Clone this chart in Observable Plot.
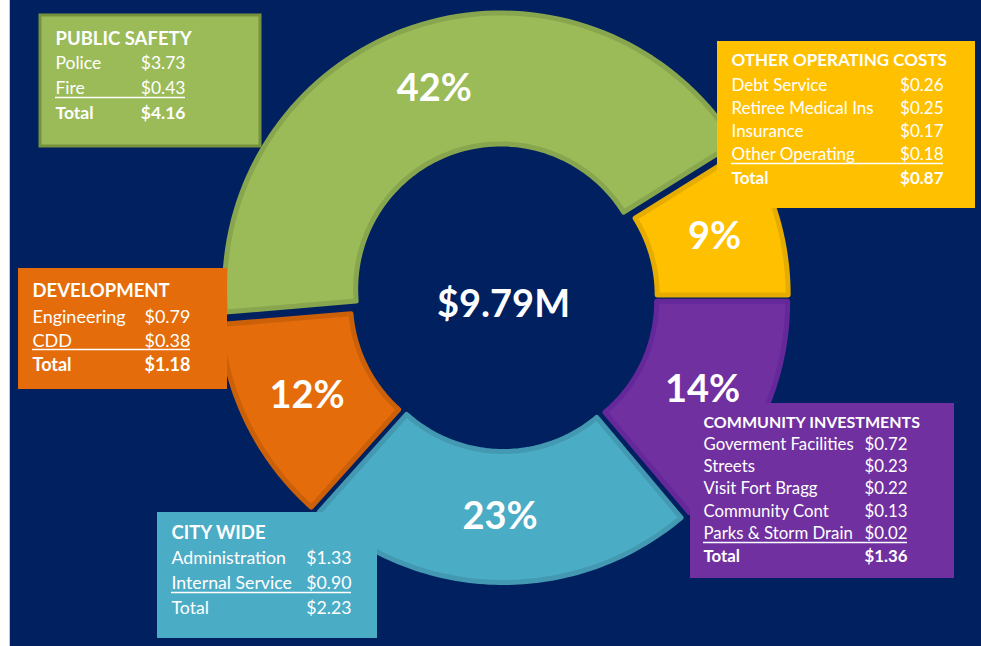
<!DOCTYPE html>
<html><head><meta charset="utf-8">
<script src="https://cdn.jsdelivr.net/npm/d3@7"></script>
<script src="https://cdn.jsdelivr.net/npm/@observablehq/plot@0.6"></script>
<style>
html,body{margin:0;padding:0;background:#fff;}
#chart{width:981px;height:646px;}
#chart svg{display:block;}
</style></head><body><div id="chart"></div>
<script>
// ---------- data ----------
const categories = ["PUBLIC SAFETY", "OTHER OPERATING COSTS", "COMMUNITY INVESTMENTS", "CITY WIDE", "DEVELOPMENT"];
const categoryTotals = [4.16, 0.87, 1.36, 2.23, 1.18];
const totalLabel = "$9.79M";
const publicSafetyItems = ["Police", "Fire"];
const publicSafetyValues = [3.73, 0.43];
const otherOperatingItems = ["Debt Service", "Retiree Medical Ins", "Insurance", "Other Operating"];
const otherOperatingValues = [0.26, 0.25, 0.17, 0.18];
const communityItems = ["Goverment Facilities", "Streets", "Visit Fort Bragg", "Community Cont", "Parks & Storm Drain"];
const communityValues = [0.72, 0.23, 0.22, 0.13, 0.02];
const cityWideItems = ["Administration", "Internal Service"];
const cityWideValues = [1.33, 0.90];
const developmentItems = ["Engineering", "CDD"];
const developmentValues = [0.79, 0.38];
const itemLists = [publicSafetyItems, otherOperatingItems, communityItems, cityWideItems, developmentItems];
const valueLists = [publicSafetyValues, otherOperatingValues, communityValues, cityWideValues, developmentValues];

// ---------- styles / layout ----------
const W = 981, H = 646;
const cx = 503, cy = 297, rIn = 145, rOut = 276, explode = 9;
const startAngle = -94.8 * Math.PI / 180;
const sliceFill = ["#9BBB59", "#FFC000", "#7030A0", "#4BACC6", "#E46C0A"];
const sliceEdge = ["#88A64D", "#E6AD00", "#64289A", "#4399B1", "#CC6009"];
const FONT = "Lato, 'Open Sans', sans-serif";
const boxLayout = [
  {x: 40, y: 15, w: 220, h: 131, fill: "#9BBB59", border: "#76923C", titleY: 44, titleSize: 18.5, rowY: 68, dy: 25, size: 17.5, tx: 55, vx: 185, ul: 97, totalBold: true},
  {x: 717, y: 41, w: 258, h: 167, fill: "#FFC000", border: null, titleY: 65, titleSize: 17, rowY: 90, dy: 23.3, size: 17, tx: 731, vx: 943, ul: 163, totalBold: true},
  {x: 690, y: 403, w: 264, h: 175, fill: "#7030A0", border: null, titleY: 427, titleSize: 16, rowY: 449, dy: 22.4, size: 16.8, tx: 703, vx: 907, ul: 542, totalBold: true},
  {x: 157, y: 512, w: 220, h: 126, fill: "#4BACC6", border: null, titleY: 538, titleSize: 18.5, rowY: 563, dy: 25, size: 17.7, tx: 171, vx: 351, ul: 592, totalBold: false},
  {x: 18, y: 268, w: 209, h: 121, fill: "#E46C0A", border: null, titleY: 296, titleSize: 18.5, rowY: 322, dy: 24, size: 18, tx: 32, vx: 190, ul: 349, totalBold: true}
];

// ---------- geometry from data ----------
const arcs = d3.pie().sort(null).startAngle(startAngle).endAngle(startAngle + 2 * Math.PI)(categoryTotals);
const total = d3.sum(categoryTotals);
const polar = (r, a, o) => ({x: cx + o.x + r * Math.sin(a), y: cy + o.y - r * Math.cos(a)});
const slices = arcs.map((a, i) => {
  const mid = (a.startAngle + a.endAngle) / 2;
  const o = {x: explode * Math.sin(mid), y: -explode * Math.cos(mid)};
  const n = 80, pts = [];
  for (let k = 0; k <= n; k++) pts.push(polar(rOut, a.startAngle + (a.endAngle - a.startAngle) * k / n, o));
  for (let k = n; k >= 0; k--) pts.push(polar(rIn, a.startAngle + (a.endAngle - a.startAngle) * k / n, o));
  const c = polar((rIn + rOut) / 2, mid, o);
  return {pts, label: {x: c.x, y: c.y, text: Math.round(a.value / total * 100) + "%"}};
});

const marks = [];
slices.forEach((s, i) => {
  marks.push(Plot.line(s.pts, {x: "x", y: "y", curve: "linear-closed", fill: sliceFill[i], stroke: sliceEdge[i], strokeWidth: 5}));
});
marks.push(Plot.text(slices.map(s => s.label), {x: "x", y: "y", text: "text", fill: "white", fontSize: 38, fontWeight: "bold"}));
marks.push(Plot.text([{x: cx, y: 304, t: totalLabel}], {x: "x", y: "y", text: "t", fill: "white", fontSize: 38, fontWeight: "bold"}));

// ---------- boxes ----------
const fmt = v => "$" + v.toFixed(2);
boxLayout.forEach((b, i) => {
  marks.push(Plot.rect([b], {x1: d => d.x, x2: d => d.x + d.w, y1: d => d.y, y2: d => d.y + d.h, fill: b.fill, stroke: b.border || "none", strokeWidth: 3, inset: 0}));
  marks.push(Plot.text([categories[i]], {x: b.tx, y: b.titleY, text: d => d, fill: "white", fontWeight: "bold", fontSize: b.titleSize, textAnchor: "start", lineAnchor: "bottom"}));
  const rows = itemLists[i].map((name, k) => ({name, value: fmt(valueLists[i][k]), y: b.rowY + k * b.dy}));
  marks.push(Plot.text(rows, {x: b.tx, y: "y", text: "name", fill: "white", fontSize: b.size, textAnchor: "start", lineAnchor: "bottom"}));
  marks.push(Plot.text(rows, {x: b.vx, y: "y", text: "value", fill: "white", fontSize: b.size, textAnchor: "end", lineAnchor: "bottom"}));
  const ty = b.rowY + itemLists[i].length * b.dy;
  const tw = b.totalBold ? "bold" : "normal";
  marks.push(Plot.text([{y: ty, t: "Total", v: fmt(categoryTotals[i])}], {x: b.tx, y: "y", text: "t", fill: "white", fontSize: b.size, fontWeight: tw, textAnchor: "start", lineAnchor: "bottom"}));
  marks.push(Plot.text([{y: ty, t: "Total", v: fmt(categoryTotals[i])}], {x: b.vx, y: "y", text: "v", fill: "white", fontSize: b.size, fontWeight: tw, textAnchor: "end", lineAnchor: "bottom"}));
  marks.push(Plot.ruleY([b.ul], {x1: b.tx, x2: b.vx, stroke: "white", strokeWidth: 1.3}));
});

const chart = Plot.plot({
  width: W, height: H,
  margin: 0,
  x: {domain: [0, W], range: [0, W], axis: null},
  y: {domain: [0, H], range: [0, H], axis: null},
  style: {
    fontFamily: FONT,
    background: "linear-gradient(90deg,#ffffff 0,#ffffff 9px,#c8c8c8 9px,#c8c8c8 10px,#002060 10px)",
    overflow: "visible"
  },
  marks
});
document.getElementById("chart").appendChild(chart);
</script>
</body></html>
